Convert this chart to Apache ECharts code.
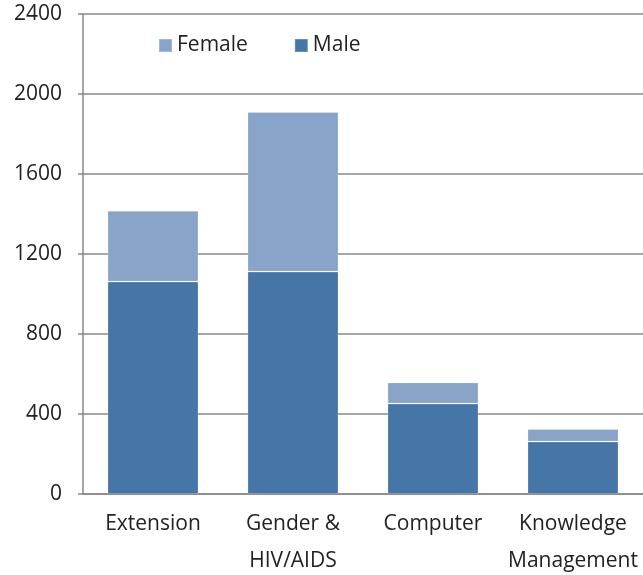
<!DOCTYPE html>
<html>
<head>
<meta charset="utf-8">
<script src="https://cdn.jsdelivr.net/npm/echarts@6/dist/echarts.min.js"></script>
<style>
  html, body { margin: 0; padding: 0; background: #fff; }
  #chart { width: 643px; height: 575px; }
</style>
</head>
<body>
<div id="chart"></div>
<script>
// Training participants by course, split by sex
const categories = ['Extension', 'Gender &\nHIV/AIDS', 'Computer', 'Knowledge\nManagement'];
const maleValues = [1062, 1112, 452, 262];
const femaleValues = [354, 798, 106, 63];
const yTicks = { min: 0, max: 2400, interval: 400 };

const font = '"Open Sans", "DejaVu Sans", sans-serif';
const chart = echarts.init(document.getElementById('chart'), null, { renderer: 'canvas' });

chart.setOption({
  animation: false,
  textStyle: { fontFamily: font },
  grid: { left: 83, right: 0, top: 14, bottom: 81, containLabel: false, outerBoundsMode: 'none' },
  legend: {
    data: ['Female', 'Male'],
    top: 30,
    left: 153,
    itemWidth: 13,
    itemHeight: 13,
    itemGap: 46,
    textStyle: { fontSize: 21, color: '#222', fontFamily: font },
    icon: 'rect'
  },
  xAxis: {
    type: 'category',
    data: categories,
    axisLine: { lineStyle: { color: '#888', width: 1.5 } },
    axisTick: { show: false },
    axisLabel: { fontSize: 21, color: '#222', margin: 12, lineHeight: 37, interval: 0, fontFamily: font }
  },
  yAxis: {
    type: 'value',
    min: yTicks.min,
    max: yTicks.max,
    interval: yTicks.interval,
    axisLine: { show: true, lineStyle: { color: '#888', width: 1.5 } },
    axisTick: { show: true, length: 5, lineStyle: { color: '#888', width: 1.5 } },
    axisLabel: { fontSize: 21, color: '#222', margin: 21, fontFamily: font, formatter: v => String(v) },
    splitLine: { lineStyle: { color: '#888', width: 1.5 } }
  },
  series: [
    {
      name: 'Male',
      type: 'bar',
      stack: 'total',
      barWidth: '65%',
      data: maleValues,
      itemStyle: { color: '#4675a8', borderColor: 'rgba(255,255,255,0.2)', borderWidth: 1 }
    },
    {
      name: 'Female',
      type: 'bar',
      stack: 'total',
      barWidth: '65%',
      data: femaleValues,
      itemStyle: { color: '#89a4c9', borderColor: 'rgba(255,255,255,0.2)', borderWidth: 1 }
    }
  ]
});
</script>
</body>
</html>
